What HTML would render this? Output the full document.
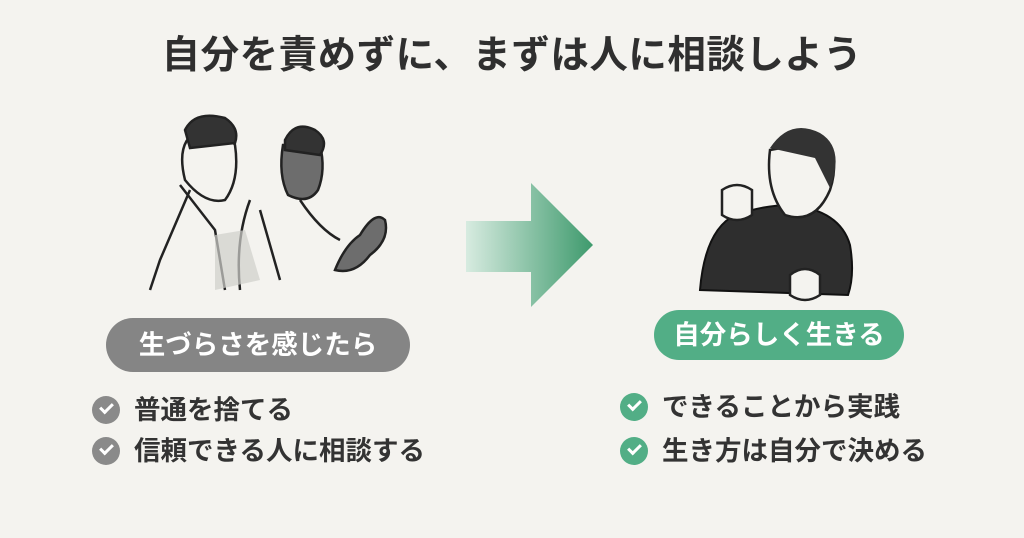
<!DOCTYPE html>
<html><head><meta charset="utf-8"><style>
body{margin:0;width:1024px;height:538px;background:#f4f3ef;font-family:"Liberation Sans","Noto Sans CJK JP",sans-serif;position:relative;overflow:hidden;color:#333}
.t{position:absolute;left:0;width:1024px;top:33px;text-align:center;font-size:38.5px;font-weight:bold;letter-spacing:0.5px;color:#2f2f2f;line-height:46px}
.pill{position:absolute;color:#fff;font-weight:bold;font-size:26.5px;text-align:center;border-radius:30px}
.it{position:absolute;font-size:26.5px;font-weight:bold;color:#333;height:34px;line-height:34px}
.it i{position:absolute;left:-42px;top:3px;width:28px;height:28px;border-radius:50%}
.it i:after{content:"";position:absolute;left:8px;top:7px;width:10px;height:5px;border-left:3.5px solid #fff;border-bottom:3.5px solid #fff;transform:rotate(-45deg)}
</style></head><body>
<div class="t">自分を責めずに、まずは人に相談しよう</div>
<svg width="1024" height="538" style="position:absolute;left:0;top:0">
<defs><linearGradient id="g" x1="0" x2="1"><stop offset="0" stop-color="#d7ebe0"/><stop offset="1" stop-color="#3e9a6d"/></linearGradient></defs>
<polygon points="466,221 531,221 531,183 593,245 531,307 531,272 466,272" fill="url(#g)"/>
<g fill="none" stroke="#222" stroke-width="2.5">
<path d="M190,190 L160,260 L150,290 M180,185 L215,230 L225,290 M200,130 q-25,10 -15,50 q20,25 40,20 q15,-20 10,-55 q-15,-25 -35,-15z" fill="#f4f3ef"/>
<path d="M185,130 q10,-20 40,-12 q15,10 10,25 l-45,5z" fill="#333"/>
<path d="M250,200 q-15,40 -10,90 M300,200 q20,30 40,40 M260,210 L280,280"/>
<path d="M283,145 q-5,30 5,50 q20,10 30,-5 q8,-20 2,-45z" fill="#6d6d6d"/>
<path d="M285,140 q10,-20 30,-10 q15,10 5,25 l-35,-5z" fill="#333"/>
<path d="M335,270 q10,-25 25,-35 q15,-25 25,-15 q5,20 -15,35 q-15,20 -35,15z" fill="#6d6d6d"/>
</g>
<polygon points="215,235 245,230 260,280 215,290" fill="#cfcecb" opacity=".7"/>
<path d="M700,290 q5,-60 35,-75 q30,-10 55,-10 q50,5 60,40 q5,30 -2,50 z" fill="#2e2e2e" stroke="#111" stroke-width="2"/>
<path d="M770,150 q-5,40 15,65 q30,10 45,-25 q10,-30 -5,-50z" fill="#f4f3ef" stroke="#222" stroke-width="2.5"/>
<path d="M770,148 q20,-30 50,-15 q25,15 10,55 l-15,-30z" fill="#333"/>
<path d="M722,190 q15,-10 30,0 l0,25 q-15,10 -30,0z" fill="#f4f3ef" stroke="#222" stroke-width="2.5"/>
<path d="M790,275 q15,-12 30,0 l0,20 q-15,10 -30,0z" fill="#f4f3ef" stroke="#222" stroke-width="2.5"/>
</svg>
<div class="pill" style="left:106px;top:318px;width:304px;height:54px;line-height:54px;background:#858585">生づらさを感じたら</div>
<div class="pill" style="left:654px;top:310px;width:250px;height:50px;line-height:50px;background:#52ae86">自分らしく生きる</div>
<div class="it" style="left:134px;top:393px"><i style="background:#8a8a8a"></i>普通を捨てる</div>
<div class="it" style="left:134px;top:434px"><i style="background:#8a8a8a"></i>信頼できる人に相談する</div>
<div class="it" style="left:662px;top:390px"><i style="background:#52ae86"></i>できることから実践</div>
<div class="it" style="left:662px;top:434px"><i style="background:#52ae86"></i>生き方は自分で決める</div>
</body></html>
